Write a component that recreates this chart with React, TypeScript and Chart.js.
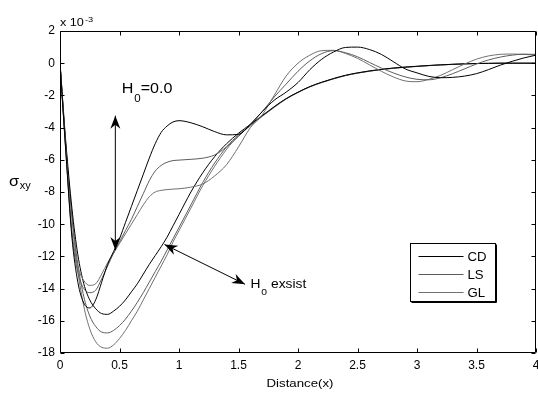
import React, { useEffect, useRef } from 'react';
import { Chart, registerables } from 'chart.js';

Chart.register(...registerables);

// ---------- data ----------
const X = [0, 0.05, 0.1, 0.15, 0.2, 0.25, 0.3, 0.35, 0.4, 0.45, 0.5, 0.55, 0.6, 0.65, 0.7, 0.75, 0.8, 0.85, 0.9, 0.95, 1.0,
  1.1, 1.2, 1.3, 1.4, 1.5, 1.6, 1.7, 1.8, 1.9, 2.0, 2.1, 2.2, 2.3, 2.4, 2.5, 2.6, 2.7, 2.8, 2.9, 3.0,
  3.1, 3.2, 3.3, 3.4, 3.5, 3.6, 3.7, 3.8, 3.9, 4.0];

// H0 = 0.0 group
const CD_H0ZERO = [0, -5.6, -10.8, -13.6, -14.9, -15.2, -14.7, -13.6, -12.5, -11.7, -10.9, -9.9, -8.9, -7.9, -6.9, -5.9, -5.0, -4.3, -3.9, -3.65, -3.57,
  -3.7, -3.95, -4.25, -4.45, -4.42, -3.8, -3.0, -2.3, -1.8, -1.2, -0.4, 0.25, 0.7, 0.98, 1.0, 0.85, 0.55, 0.1, -0.35, -0.6,
  -0.82, -0.9, -0.88, -0.8, -0.65, -0.4, -0.12, 0.12, 0.33, 0.5];
const LS_H0ZERO = [0, -5.6, -10.6, -13.0, -14.0, -14.25, -14.1, -13.4, -12.6, -11.8, -11.1, -10.4, -9.7, -8.9, -8.1, -7.3, -6.7, -6.35, -6.15, -6.05, -6.02,
  -5.97, -5.9, -5.7, -5.2, -4.55, -3.8, -3.0, -2.1, -1.3, -0.5, 0.15, 0.6, 0.78, 0.65, 0.4, 0.05, -0.3, -0.6, -0.85, -1.0,
  -1.03, -0.9, -0.65, -0.35, -0.05, 0.2, 0.38, 0.5, 0.56, 0.55];
const GL_H0ZERO = [0, -5.5, -10.4, -12.6, -13.5, -13.8, -13.7, -13.1, -12.4, -11.8, -11.2, -10.6, -10.0, -9.4, -8.8, -8.3, -8.0, -7.9, -7.85, -7.82, -7.8,
  -7.7, -7.5, -7.0, -6.3, -5.2, -4.0, -3.2, -2.0, -0.8, 0.0, 0.5, 0.78, 0.8, 0.6, 0.3, -0.1, -0.5, -0.85, -1.1, -1.15,
  -1.0, -0.75, -0.4, -0.05, 0.25, 0.45, 0.55, 0.57, 0.55, 0.5];

// H0 exist group
const CD_H0EXIST = [0, -5.0, -9.0, -11.9, -13.7, -14.7, -15.25, -15.55, -15.6, -15.4, -15.1, -14.7, -14.2, -13.7, -13.1, -12.5, -11.95, -11.4, -10.8, -10.1, -9.4,
  -8.0, -6.8, -5.8, -5.0, -4.35, -3.8, -3.25, -2.7, -2.2, -1.8, -1.45, -1.18, -0.95, -0.75, -0.6, -0.48, -0.38, -0.3, -0.24, -0.19,
  -0.14, -0.1, -0.07, -0.04, -0.02, -0.01, 0, 0, 0, 0];
const LS_H0EXIST = [0, -5.2, -9.4, -12.5, -14.5, -15.7, -16.35, -16.7, -16.75, -16.6, -16.3, -15.9, -15.4, -14.85, -14.25, -13.6, -12.95, -12.3, -11.6, -10.9, -10.2,
  -8.8, -7.4, -6.2, -5.2, -4.45, -3.85, -3.27, -2.72, -2.21, -1.81, -1.46, -1.19, -0.96, -0.76, -0.61, -0.49, -0.39, -0.31, -0.25, -0.2,
  -0.15, -0.11, -0.07, -0.04, -0.02, -0.01, 0, 0, 0, 0];
const GL_H0EXIST = [0, -5.3, -9.6, -12.9, -15.1, -16.5, -17.3, -17.65, -17.7, -17.5, -17.1, -16.6, -16.0, -15.4, -14.7, -14.0, -13.3, -12.6, -11.9, -11.1, -10.4,
  -9.0, -7.6, -6.4, -5.35, -4.5, -3.9, -3.3, -2.75, -2.23, -1.82, -1.47, -1.2, -0.97, -0.77, -0.62, -0.5, -0.4, -0.32, -0.25, -0.2,
  -0.15, -0.11, -0.07, -0.04, -0.02, -0.01, 0, 0, 0, 0];

const X_TICKS = [0, 0.5, 1, 1.5, 2, 2.5, 3, 3.5, 4];
const Y_TICKS = [2, 0, -2, -4, -6, -8, -10, -12, -14, -16, -18];
const LEGEND_LABELS = ['CD', 'LS', 'GL'];
const X_TITLE = 'Distance(x)';
const Y_TITLE_MAIN = 'σ';
const Y_TITLE_SUB = 'xy';
const EXP_MAIN = 'x 10';
const EXP_SUP = '-3';

// annotations in data units
const ARROW_H0ZERO = { from: [0.465, -3.26], to: [0.465, -11.6] };
const ARROW_H0EXIST = { from: [0.878, -11.26], to: [1.555, -13.73] };
const LABEL_H0ZERO = { at: [0.518, -1.87], main: 'H', sub: '0', rest: '=0.0' };
const LABEL_H0EXIST = { at: [1.60, -13.99], main: 'H', sub: '0', rest: ' exsist' };

// ---------- styles ----------
const FONT = '"Liberation Sans", Arial, Helvetica, sans-serif';
const COLORS = ['#000000', '#5c5c5c', '#707070'];
const SX = 1.15;

function txt(ctx: CanvasRenderingContext2D, s: string, x: number, y: number, size: number, align: CanvasTextAlign = 'left', sx = SX) {
  ctx.save();
  ctx.translate(x, y);
  ctx.scale(sx, 1);
  ctx.font = `${size}px ${FONT}`;
  ctx.textAlign = align;
  ctx.textBaseline = 'alphabetic';
  ctx.fillStyle = '#000';
  ctx.fillText(s, 0, 0);
  const w = ctx.measureText(s).width * sx;
  ctx.restore();
  return w;
}

function head(ctx: CanvasRenderingContext2D, x: number, y: number, ang: number) {
  const L = 13, W = 5, N = 9;
  ctx.save();
  ctx.translate(x, y);
  ctx.rotate(ang);
  ctx.beginPath();
  ctx.moveTo(0, 0);
  ctx.lineTo(-L, -W);
  ctx.lineTo(-N, 0);
  ctx.lineTo(-L, W);
  ctx.closePath();
  ctx.fill();
  ctx.restore();
}

function dblArrow(ctx: CanvasRenderingContext2D, x1: number, y1: number, x2: number, y2: number) {
  ctx.save();
  ctx.strokeStyle = '#000';
  ctx.fillStyle = '#000';
  ctx.lineWidth = 1;
  ctx.beginPath();
  ctx.moveTo(x1, y1);
  ctx.lineTo(x2, y2);
  ctx.stroke();
  const a = Math.atan2(y2 - y1, x2 - x1);
  head(ctx, x2, y2, a);
  head(ctx, x1, y1, a + Math.PI);
  ctx.restore();
}

const decorPlugin = {
  id: 'decor',
  afterDraw(chart: any) {
    const { ctx, chartArea: a, scales } = chart;
    const xs = scales.x, ys = scales.y;
    const px = (v: number) => xs.getPixelForValue(v);
    const py = (v: number) => ys.getPixelForValue(v);
    ctx.save();
    // box
    ctx.strokeStyle = '#000';
    ctx.lineWidth = 1;
    const L = Math.round(a.left) + 0.5, R = Math.round(a.right) - 0.5;
    const T = Math.round(a.top) + 0.5, B = Math.round(a.bottom) - 0.5;
    ctx.beginPath();
    ctx.rect(L, T, R - L, B - T);
    ctx.stroke();
    // inward ticks
    const tl = 4;
    ctx.beginPath();
    X_TICKS.forEach((v) => {
      const x = Math.round(px(v)) + 0.5;
      ctx.moveTo(x, B); ctx.lineTo(x, B - tl);
      ctx.moveTo(x, T); ctx.lineTo(x, T + tl);
    });
    Y_TICKS.forEach((v) => {
      const y = Math.round(py(v)) + 0.5;
      ctx.moveTo(L, y); ctx.lineTo(L + tl, y);
      ctx.moveTo(R, y); ctx.lineTo(R - tl, y);
    });
    ctx.stroke();

    // exponent
    const w0 = txt(ctx, EXP_MAIN, a.left, a.top - 5, 11);
    txt(ctx, EXP_SUP, a.left + w0 + 1, a.top - 9, 8);

    // axis titles
    txt(ctx, X_TITLE, (a.left + a.right) / 2 + 2, a.bottom + 34, 11.5, 'center');
    const sw = txt(ctx, Y_TITLE_MAIN, a.left - 51, (a.top + a.bottom) / 2 - 6, 15, 'left', 1.1);
    txt(ctx, Y_TITLE_SUB, a.left - 51 + sw + 0.5, (a.top + a.bottom) / 2 - 3, 10, 'left', 1.1);

    // annotation labels
    [[LABEL_H0ZERO, 14, 10, 9], [LABEL_H0EXIST, 12, 9, 7]].forEach(([lab, fs, ss, off]: any) => {
      const x0 = px(lab.at[0]);
      const y0 = py(lab.at[1]);
      const wm = txt(ctx, lab.main, x0, y0, fs);
      const ws = txt(ctx, lab.sub, x0 + wm + 1, y0 + off, ss);
      txt(ctx, lab.rest, x0 + wm + ws + 1, y0, fs);
    });

    // arrows
    [ARROW_H0ZERO, ARROW_H0EXIST].forEach((ar) => {
      dblArrow(ctx, px(ar.from[0]), py(ar.from[1]), px(ar.to[0]), py(ar.to[1]));
    });

    // legend
    const lx = Math.round(a.right - 126) + 0.5;
    const ly = Math.round(a.top + 212) + 0.5;
    const lw = 85, lh = 58;
    ctx.fillStyle = '#fff';
    ctx.fillRect(lx, ly, lw, lh);
    ctx.strokeStyle = '#000';
    ctx.lineWidth = 1;
    ctx.strokeRect(lx, ly, lw, lh);
    ctx.beginPath();
    ctx.moveTo(lx + lw + 1, ly + 1); ctx.lineTo(lx + lw + 1, ly + lh + 1); ctx.lineTo(lx + 1, ly + lh + 1);
    ctx.stroke();
    LEGEND_LABELS.forEach((lab, i) => {
      const yy = Math.round(ly + 12 + i * 18.3) + 0.5;
      ctx.strokeStyle = COLORS[i];
      ctx.beginPath();
      ctx.moveTo(lx + 8, yy);
      ctx.lineTo(lx + 53, yy);
      ctx.stroke();
      txt(ctx, lab, lx + 57, yy + 4.5, 12, 'left', 1.1);
    });
    ctx.restore();
  },
};

export default function App() {
  const ref = useRef<HTMLCanvasElement | null>(null);
  useEffect(() => {
    if (!ref.current) return;
    const series = [
      { label: 'CD', data: CD_H0ZERO, color: COLORS[0] },
      { label: 'LS', data: LS_H0ZERO, color: COLORS[1] },
      { label: 'GL', data: GL_H0ZERO, color: COLORS[2] },
      { label: 'CD (H0 exist)', data: CD_H0EXIST, color: COLORS[0] },
      { label: 'LS (H0 exist)', data: LS_H0EXIST, color: COLORS[1] },
      { label: 'GL (H0 exist)', data: GL_H0EXIST, color: COLORS[2] },
    ];
    const chart = new Chart(ref.current, {
      type: 'scatter',
      data: {
        datasets: series.map((s) => ({
          label: s.label,
          data: X.map((x, i) => ({ x, y: s.data[i] })),
          showLine: true,
          pointRadius: 0,
          borderColor: s.color,
          borderWidth: 1,
          cubicInterpolationMode: 'monotone' as const,
          fill: false,
        })),
      },
      options: {
        responsive: false,
        animation: false,
        layout: { padding: { top: 31, right: 2, left: 0, bottom: 0 } },
        plugins: { legend: { display: false }, tooltip: { enabled: false } },
        scales: {
          x: {
            type: 'linear',
            min: 0,
            max: 4,
            afterBuildTicks: (s: any) => { s.ticks = X_TICKS.map((v) => ({ value: v })); },
            afterFit: (s: any) => { s.height = 40; s.paddingLeft = 0; s.paddingRight = 0; },
            grid: { display: false, drawTicks: false, tickLength: 0 },
            border: { display: false },
            ticks: {
              color: '#000',
              font: { family: FONT, size: 12 },
              padding: 5,
              maxRotation: 0,
              autoSkip: false,
              callback: (v: any) => String(v),
            },
          },
          y: {
            type: 'linear',
            min: -18,
            max: 2,
            afterBuildTicks: (s: any) => { s.ticks = Y_TICKS.map((v) => ({ value: v })); },
            afterFit: (s: any) => { s.width = 60; s.paddingTop = 0; s.paddingBottom = 0; },
            grid: { display: false, drawTicks: false, tickLength: 0 },
            border: { display: false },
            ticks: {
              color: '#000',
              font: { family: FONT, size: 12 },
              padding: 5,
              autoSkip: false,
              callback: (v: any) => String(v),
            },
          },
        },
      },
      plugins: [decorPlugin],
    } as any);
    return () => chart.destroy();
  }, []);
  return (
    <div style={{ position: 'absolute', left: 0, top: 0, width: 538, height: 393, background: '#fff' }}>
      <canvas ref={ref} width={538} height={393} style={{ display: 'block' }} />
    </div>
  );
}
